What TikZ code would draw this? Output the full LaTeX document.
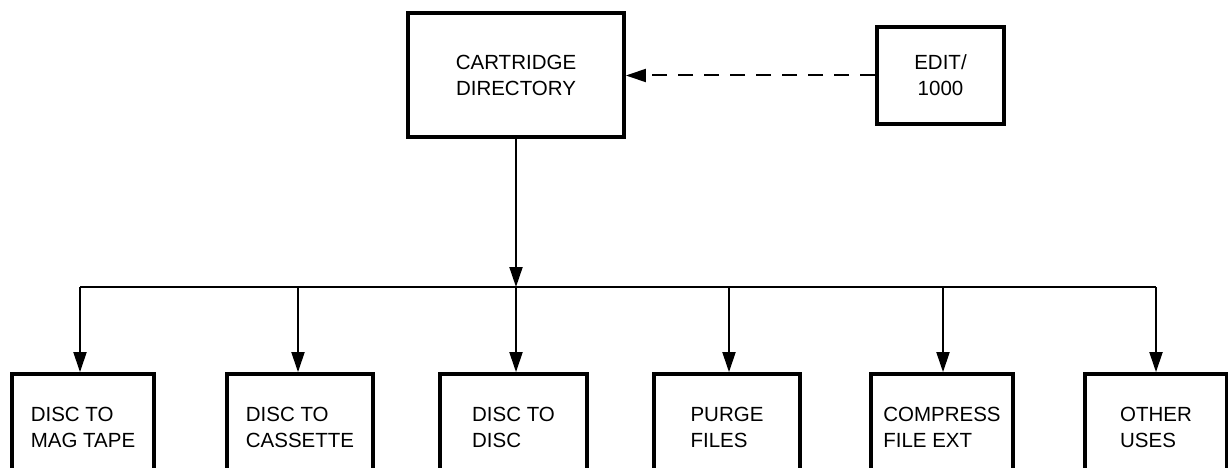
\documentclass[tikz,border=0pt]{standalone}
\usepackage{fontspec}
\setmainfont{Liberation Sans}
\usetikzlibrary{arrows.meta}
\begin{document}
\begin{tikzpicture}[x=1pt,y=-1pt,
  box/.style={draw=black, line width=3.8pt, rectangle, inner sep=0pt,
    font=\fontsize{20.5}{26}\selectfont, align=left},
  conn/.style={draw=black, line width=2pt},
  arr/.style={conn, -{Triangle[length=20pt,width=13pt]}},
  dasharr/.style={arr, dash pattern=on 15pt off 11pt}]
\useasboundingbox (0,0) rectangle (1228,468);
\clip (0,0) rectangle (1228,468);
\fill[white] (0,0) rectangle (1228,468);
% top boxes
\node[box, minimum width=216pt, minimum height=124pt, align=center] (top) at (516,75) {CARTRIDGE\\DIRECTORY};
\node[box, minimum width=127pt, minimum height=97pt, align=center] (edit) at (940.5,75.5) {EDIT/\\1000};
% bottom boxes
\node[box, minimum width=142pt, minimum height=106pt] (b1) at (83,427) {DISC TO\\MAG TAPE};
\node[box, minimum width=146pt, minimum height=106pt] (b2) at (300,427) {DISC TO\\CASSETTE};
\node[box, minimum width=147pt, minimum height=106pt] (b3) at (513.5,427) {DISC TO\\DISC};
\node[box, minimum width=146pt, minimum height=106pt] (b4) at (727,427) {PURGE\\FILES};
\node[box, minimum width=142pt, minimum height=106pt] (b5) at (942,427) {COMPRESS\\FILE EXT};
\node[box, minimum width=142pt, minimum height=106pt] (b6) at (1156,427) {OTHER\\USES};
% connectors
\coordinate (bus) at (516,287);
\coordinate (l1) at (80,287);
\coordinate (l2) at (298,287);
\coordinate (l3) at (516,287);
\coordinate (l4) at (729,287);
\coordinate (l5) at (943,287);
\coordinate (l6) at (1156,287);
\draw[dasharr] (edit.west) -- (top.east |- edit.west);
\draw[arr] (top.south) -- (bus);
\draw[conn] (l1) -- (l6);
\draw[arr] (l1) -- (l1 |- b1.north);
\draw[arr] (l2) -- (l2 |- b2.north);
\draw[arr] (l3) -- (l3 |- b3.north);
\draw[arr] (l4) -- (l4 |- b4.north);
\draw[arr] (l5) -- (l5 |- b5.north);
\draw[arr] (l6) -- (l6 |- b6.north);
\end{tikzpicture}
\end{document}
